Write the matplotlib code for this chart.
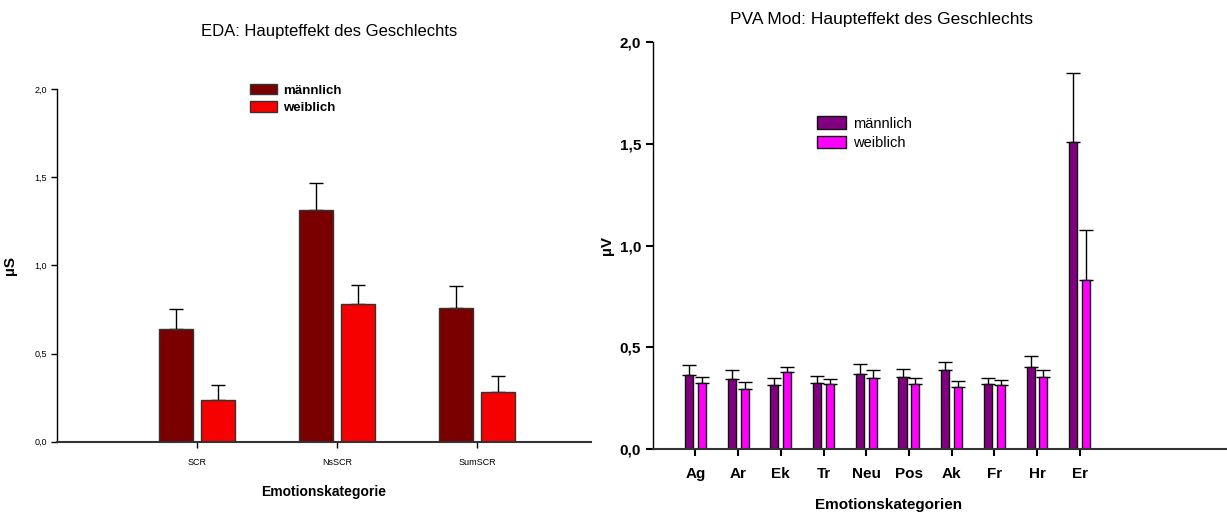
import matplotlib.pyplot as plt
import numpy as np
from matplotlib.patches import Patch

plt.rcParams['font.family'] = ['Liberation Sans', 'DejaVu Sans']

# EDA panel
eda_cats = ['SCR', 'NsSCR', 'SumSCR']
eda_m = [0.64, 1.315, 0.76]
eda_m_err = [0.115, 0.155, 0.125]
eda_w = [0.235, 0.78, 0.28]
eda_w_err = [0.085, 0.11, 0.09]
eda_yticks = [0.0, 0.5, 1.0, 1.5, 2.0]
eda_yticklabels = ['0,0', '0,5', '1,0', '1,5', '2,0']

# PVA panel
pva_cats = ['Ag', 'Ar', 'Ek', 'Tr', 'Neu', 'Pos', 'Ak', 'Fr', 'Hr', 'Er']
pva_m = [0.364, 0.343, 0.315, 0.323, 0.370, 0.352, 0.387, 0.318, 0.405, 1.508]
pva_m_err = [0.047, 0.044, 0.036, 0.038, 0.050, 0.041, 0.043, 0.033, 0.052, 0.341]
pva_w = [0.323, 0.297, 0.377, 0.318, 0.348, 0.318, 0.303, 0.315, 0.352, 0.833]
pva_w_err = [0.031, 0.031, 0.028, 0.026, 0.039, 0.030, 0.031, 0.023, 0.038, 0.246]
pva_yticklabels = ['0,0', '0,5', '1,0', '1,5', '2,0']

labels = ['männlich', 'weiblich']

fig = plt.figure(figsize=(12.27, 5.13), dpi=100)


def draw_panel(ax, cats, m, m_err, w, w_err, cols, width, off, edge):
    x = np.arange(1, len(cats) + 1)
    ax.bar(x - off, m, width, color=cols[0], edgecolor=edge, linewidth=1.0, zorder=2)
    ax.bar(x + off, w, width, color=cols[1], edgecolor=edge, linewidth=1.0, zorder=2)
    ax.errorbar(x - off, m, yerr=[np.zeros(len(m)), m_err], fmt='none',
                ecolor='black', elinewidth=1.0, capsize=5, capthick=1.0, zorder=1)
    ax.errorbar(x + off, w, yerr=[np.zeros(len(w)), w_err], fmt='none',
                ecolor='black', elinewidth=1.0, capsize=5, capthick=1.0, zorder=1)
    ax.spines['top'].set_visible(False)
    ax.spines['right'].set_visible(False)
    ax.spines['bottom'].set_color('#333333')
    ax.spines['bottom'].set_linewidth(1.5)
    ax.spines['left'].set_linewidth(1.0)
    ax.set_xticks(x)
    ax.set_xticklabels(cats)
    ax.set_ylim(0, 2.0)
    ax.set_yticks(eda_yticks)


# left panel
ax1 = fig.add_axes([0.0465, 0.139, 0.435, 0.687])
draw_panel(ax1, eda_cats, eda_m, eda_m_err, eda_w, eda_w_err,
           ['#7a0000', '#f70000'], 0.243, 0.15, '#333333')
ax1.set_xlim(0, 3.81)
ax1.set_yticklabels(eda_yticklabels)
ax1.tick_params(axis='both', labelsize=6.5, length=4, width=1)
ax1.tick_params(axis='x', pad=8)
ax1.set_title('EDA: Haupteffekt des Geschlechts', fontsize=12, pad=38, x=0.51)
ax1.set_ylabel('µS', fontsize=11, fontweight='bold', labelpad=12)
ax1.set_xlabel('Emotionskategorie', fontsize=10, fontweight='bold', labelpad=13, x=0.5)
h1 = [Patch(facecolor='#7a0000', edgecolor='#333333'),
      Patch(facecolor='#f70000', edgecolor='#333333')]
ax1.legend(h1, labels, loc='upper left', bbox_to_anchor=(0.34, 1.05), frameon=False,
           prop={'size': 9.5, 'weight': 'bold'}, handlelength=2.0, handleheight=0.9,
           handletextpad=0.5, labelspacing=0.35)

# right panel
ax2 = fig.add_axes([0.532, 0.1248, 0.468, 0.7927])
draw_panel(ax2, pva_cats, pva_m, pva_m_err, pva_w, pva_w_err,
           ['#800080', '#ff00ff'], 0.19, 0.15, '#111111')
ax2.set_xlim(0, 13.45)
ax2.set_yticklabels(pva_yticklabels)
ax2.tick_params(axis='both', labelsize=11, length=5, width=1.5)
for t in ax2.get_xticklabels() + ax2.get_yticklabels():
    t.set_fontweight('bold')
ax2.tick_params(axis='x', pad=8)
ax2.set_title('PVA Mod: Haupteffekt des Geschlechts', fontsize=12.5, pad=13, x=0.399)
ax2.set_ylabel('µV', fontsize=11, fontweight='bold', labelpad=4)
ax2.set_xlabel('Emotionskategorien', fontsize=11, fontweight='bold', labelpad=12, x=0.41)
h2 = [Patch(facecolor='#800080', edgecolor='#111111'),
      Patch(facecolor='#ff00ff', edgecolor='#111111')]
ax2.legend(h2, labels, loc='upper left', bbox_to_anchor=(0.263, 0.85), frameon=False,
           prop={'size': 10.5}, handlelength=2.0, handleheight=0.9,
           handletextpad=0.5, labelspacing=0.4)

fig.savefig('out.png', dpi=100)
